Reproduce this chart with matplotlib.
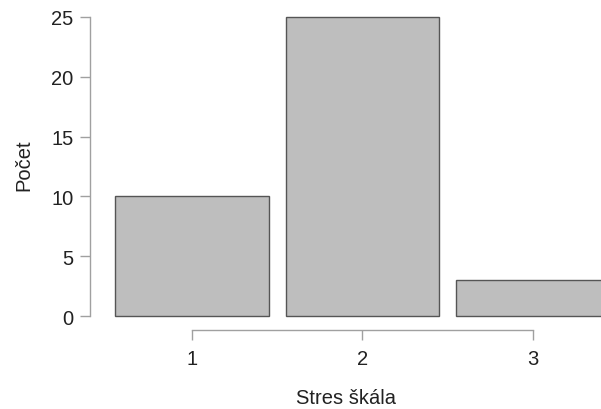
import matplotlib
matplotlib.use("Agg")
import matplotlib.pyplot as plt

categories = [1, 2, 3]
counts = [10, 25, 3]
yticks = [0, 5, 10, 15, 20, 25]

plt.rcParams['font.family'] = ['Liberation Sans', 'DejaVu Sans']

fig = plt.figure(figsize=(6.01, 4.10), dpi=100)
ax = fig.add_axes([90 / 601, 79 / 410, 511 / 601, 331 / 410])

ax.bar(categories, counts, width=0.9, color='#bebebe', edgecolor='#555555', linewidth=1)

ax.set_xlim(0.402, 3.399)
ax.set_ylim(-1.17, 26.5)

for side in ['top', 'right']:
    ax.spines[side].set_visible(False)
ax.spines['left'].set_bounds(0, 25)
ax.spines['bottom'].set_bounds(1, 3)
for side in ['left', 'bottom']:
    ax.spines[side].set_color('#a0a0a0')
    ax.spines[side].set_linewidth(1)

ax.set_xticks(categories)
ax.set_yticks(yticks)
ax.tick_params(axis='both', length=7, width=1, color='#a0a0a0', labelsize=14.5, labelcolor='#222222')
ax.tick_params(axis='x', pad=7)
ax.tick_params(axis='y', pad=5)

ax.set_xlabel('Stres škála', fontsize=14.5, color='#222222', labelpad=14)
ax.set_ylabel('Počet', fontsize=14.5, color='#222222', labelpad=13)

fig.savefig('out.png', dpi=100)
